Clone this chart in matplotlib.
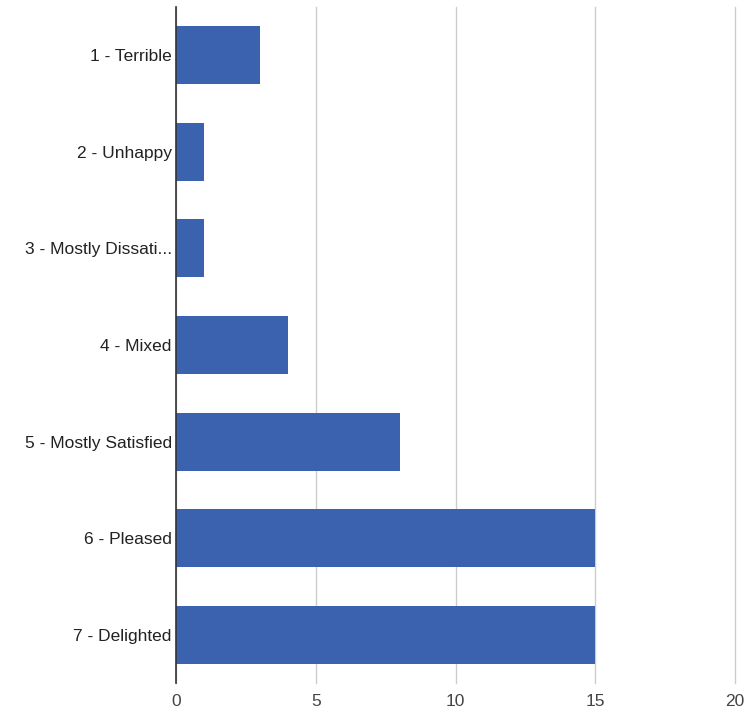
import matplotlib
matplotlib.use("Agg")
import matplotlib.pyplot as plt

categories = ["1 - Terrible", "2 - Unhappy", "3 - Mostly Dissati...", "4 - Mixed",
              "5 - Mostly Satisfied", "6 - Pleased", "7 - Delighted"]
counts = [3, 1, 1, 4, 8, 15, 15]
xticks = [0, 5, 10, 15, 20]

plt.rcParams['font.family'] = ['Liberation Sans', 'DejaVu Sans']

fig = plt.figure(figsize=(7.45, 7.17), dpi=100)
ax = fig.add_axes([176/745, 1 - 683/717, (735 - 176)/745, (683 - 7)/717])

ypos = list(range(len(categories)))
ax.barh(ypos, counts, height=0.6, color="#3a62ae", zorder=3)
ax.set_ylim(len(categories) - 0.5, -0.5)
ax.set_xlim(0, 20)
ax.set_yticks(ypos)
ax.set_yticklabels(categories, fontsize=12.5, color="#222222")
ax.set_xticks(xticks)
ax.set_xticklabels([str(t) for t in xticks], fontsize=12.5, color="#444444")
ax.tick_params(axis='both', length=0)
ax.tick_params(axis='y', pad=3)
ax.tick_params(axis='x', pad=8)
for gl in ax.xaxis.get_gridlines():
    gl.set_clip_on(False)
ax.grid(axis='x', color="#cccccc", linewidth=1, zorder=0)
for gl in ax.xaxis.get_gridlines():
    gl.set_clip_on(False)
for s in ['top', 'right', 'bottom']:
    ax.spines[s].set_visible(False)
ax.spines['left'].set_color("#333333")
ax.spines['left'].set_linewidth(1.2)
ax.spines['left'].set_zorder(4)

fig.savefig("out.png", dpi=100)
